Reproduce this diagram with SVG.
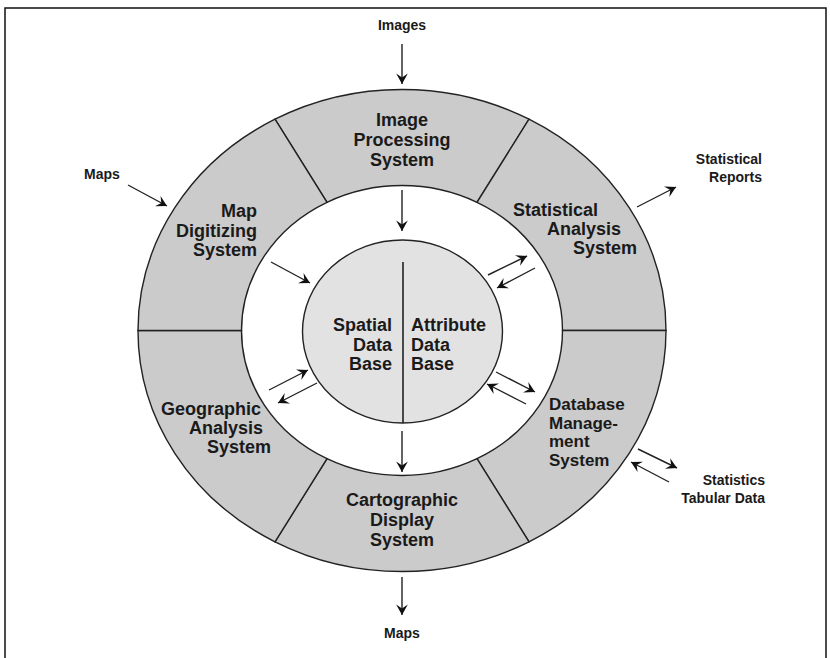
<svg xmlns="http://www.w3.org/2000/svg" width="830" height="658" viewBox="0 0 830 658">
<style>
.seg{fill:#cbcbcb;stroke:#222;stroke-width:1.4}
.core{fill:#e2e2e2;stroke:#222;stroke-width:1.4}
.lbl{font-family:"Liberation Sans",Arial,sans-serif;font-weight:bold;font-size:18px;fill:#1a1a1a}
.tight{font-size:17px}
.sm{font-family:"Liberation Sans",Arial,sans-serif;font-weight:bold;font-size:14px;fill:#1a1a1a}
.ar{stroke:#222;stroke-width:1.4;fill:none;marker-end:url(#ah)}
</style>
<defs>
<marker id="ah" markerUnits="userSpaceOnUse" markerWidth="14" markerHeight="14" viewBox="-10 -6 12 12" refX="0" refY="0" orient="auto">
<path d="M0,0 L-9,-5 L-5.5,0 L-9,5 Z" fill="#111"/>
</marker>
</defs>
<rect x="5" y="8" width="821" height="700" fill="#fff" stroke="#111" stroke-width="1.5"/>
<g id="image-processing">
<path class="seg" d="M275,119.2 A264,241 0 0 1 529,119.2 L477,202.3 A160.5,145 0 0 0 327,202.3 Z"/>
<text class="lbl" text-anchor="middle" x="402" y="126">Image</text>
<text class="lbl" text-anchor="middle" x="402" y="146">Processing</text>
<text class="lbl" text-anchor="middle" x="402" y="166">System</text>
</g>
<g id="statistical-analysis">
<path class="seg" d="M529,119.2 A264,241 0 0 1 666,330.5 L562.5,330.5 A160.5,145 0 0 0 477,202.3 Z"/>
<text class="lbl" x="513" y="216">Statistical</text>
<text class="lbl" x="547" y="235">Analysis</text>
<text class="lbl" x="573" y="254">System</text>
</g>
<g id="database-management">
<path class="seg" d="M666,330.5 A264,241 0 0 1 529,541.8 L477,458.7 A160.5,145 0 0 0 562.5,330.5 Z"/>
<text class="lbl tight" x="549" y="410">Database</text>
<text class="lbl tight" x="549" y="428.5">Manage-</text>
<text class="lbl tight" x="549" y="447">ment</text>
<text class="lbl tight" x="549" y="465.5">System</text>
</g>
<g id="cartographic-display">
<path class="seg" d="M529,541.8 A264,241 0 0 1 275,541.8 L327,458.7 A160.5,145 0 0 0 477,458.7 Z"/>
<text class="lbl" text-anchor="middle" x="402" y="506">Cartographic</text>
<text class="lbl" text-anchor="middle" x="402" y="526">Display</text>
<text class="lbl" text-anchor="middle" x="402" y="546">System</text>
</g>
<g id="geographic-analysis">
<path class="seg" d="M275,541.8 A264,241 0 0 1 138,330.5 L241.5,330.5 A160.5,145 0 0 0 327,458.7 Z"/>
<text class="lbl" x="161" y="415">Geographic</text>
<text class="lbl" x="189" y="434">Analysis</text>
<text class="lbl" x="207" y="453">System</text>
</g>
<g id="map-digitizing">
<path class="seg" d="M138,330.5 A264,241 0 0 1 275,119.2 L327,202.3 A160.5,145 0 0 0 241.5,330.5 Z"/>
<text class="lbl" text-anchor="end" x="257" y="217">Map</text>
<text class="lbl" text-anchor="end" x="257" y="237">Digitizing</text>
<text class="lbl" text-anchor="end" x="257" y="256">System</text>
</g>
<ellipse class="core" cx="402.5" cy="331.5" rx="100" ry="91.5"/>
<line x1="403" y1="262" x2="403" y2="423" stroke="#222" stroke-width="1.6"/>
<g id="spatial-data-base">
<text class="lbl" text-anchor="end" x="392" y="331">Spatial</text>
<text class="lbl" text-anchor="end" x="392" y="351">Data</text>
<text class="lbl" text-anchor="end" x="392" y="370">Base</text>
</g>
<g id="attribute-data-base">
<text class="lbl" x="411" y="331">Attribute</text>
<text class="lbl" x="411" y="351">Data</text>
<text class="lbl" x="411" y="370">Base</text>
</g>
<g id="label-images"><text class="sm" text-anchor="middle" x="402" y="30">Images</text></g>
<g id="label-maps-in"><text class="sm" text-anchor="middle" x="102" y="179">Maps</text></g>
<g id="label-stat-reports">
<text class="sm" text-anchor="end" x="762" y="164">Statistical</text>
<text class="sm" text-anchor="end" x="762" y="182">Reports</text>
</g>
<g id="label-statistics">
<text class="sm" text-anchor="end" x="765" y="485">Statistics</text>
<text class="sm" text-anchor="end" x="765" y="503">Tabular Data</text>
</g>
<g id="label-maps-out"><text class="sm" text-anchor="middle" x="402" y="638">Maps</text></g>
<g id="connectors">
<line class="ar" x1="402" y1="44" x2="402" y2="84"/>
<line class="ar" x1="402" y1="190" x2="402" y2="231"/>
<line class="ar" x1="128" y1="185" x2="167" y2="206"/>
<line class="ar" x1="271" y1="262" x2="310" y2="283"/>
<line class="ar" x1="488" y1="275" x2="527" y2="256"/>
<line class="ar" x1="535" y1="268" x2="497" y2="288"/>
<line class="ar" x1="496" y1="372" x2="535" y2="392"/>
<line class="ar" x1="526" y1="404" x2="487" y2="384"/>
<line class="ar" x1="269" y1="390" x2="308" y2="370"/>
<line class="ar" x1="317" y1="383" x2="278" y2="403"/>
<line class="ar" x1="402" y1="431" x2="402" y2="472"/>
<line class="ar" x1="402" y1="577" x2="402" y2="615"/>
<line class="ar" x1="637" y1="207" x2="676" y2="187"/>
<line class="ar" x1="638" y1="449" x2="677" y2="468"/>
<line class="ar" x1="669" y1="482" x2="631" y2="462"/>
</g>
</svg>
